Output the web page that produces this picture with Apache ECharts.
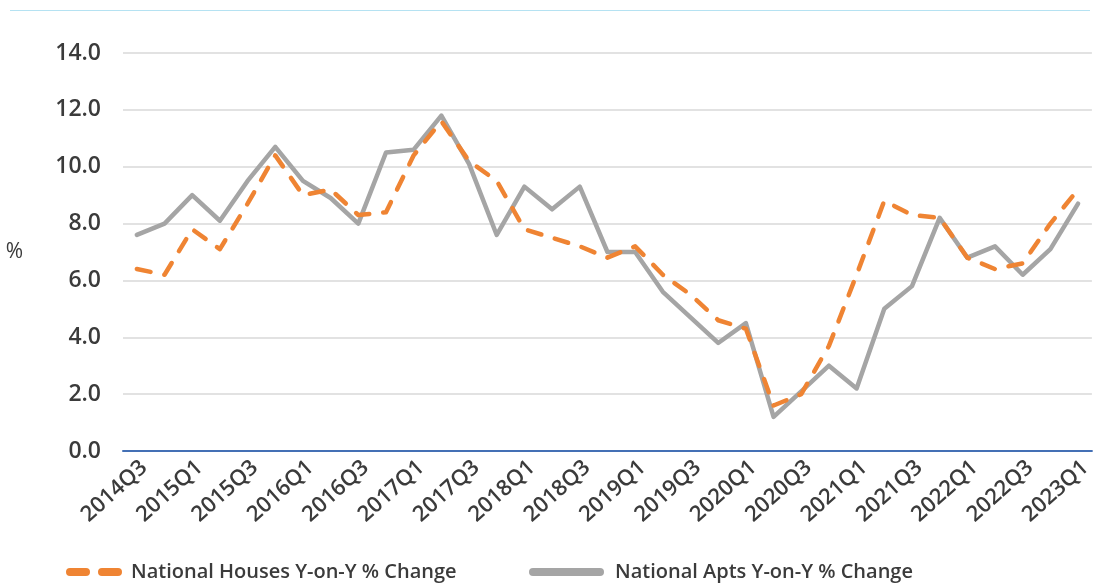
<!DOCTYPE html>
<html>
<head>
    <meta charset="utf-8">
    <script src="https://cdn.jsdelivr.net/npm/echarts@6/dist/echarts.min.js"></script>
    <style>
        *{
            margin:0;
            padding:0;
        }
        body{
            background:#fff;
        }
    </style>
</head>
<body>
    <div id="main" style="width:1095px;height:585px;"></div>
    <script type="text/javascript">

    var quarters = ['2014Q3','2014Q4','2015Q1','2015Q2','2015Q3','2015Q4','2016Q1','2016Q2','2016Q3','2016Q4',
        '2017Q1','2017Q2','2017Q3','2017Q4','2018Q1','2018Q2','2018Q3','2018Q4','2019Q1','2019Q2',
        '2019Q3','2019Q4','2020Q1','2020Q2','2020Q3','2020Q4','2021Q1','2021Q2','2021Q3','2021Q4',
        '2022Q1','2022Q2','2022Q3','2022Q4','2023Q1'];

    var houses = [6.4, 6.2, 7.8, 7.1, 8.7, 10.4, 9.0, 9.2, 8.3, 8.4,
        10.4, 11.6, 10.2, 9.5, 7.8, 7.5, 7.2, 6.8, 7.2, 6.2,
        5.5, 4.6, 4.3, 1.6, 2.0, 3.7, 6.2, 8.8, 8.3, 8.2,
        6.8, 6.4, 6.6, 8.0, 9.2];

    var apts = [7.6, 8.0, 9.0, 8.1, 9.5, 10.7, 9.5, 8.9, 8.0, 10.5,
        10.6, 11.8, 10.1, 7.6, 9.3, 8.5, 9.3, 7.0, 7.0, 5.6,
        4.7, 3.8, 4.5, 1.2, 2.1, 3.0, 2.2, 5.0, 5.8, 8.2,
        6.8, 7.2, 6.2, 7.1, 8.7];

    var seriesNames = ['National Houses Y-on-Y % Change', 'National Apts Y-on-Y % Change'];

    var textColor = '#3b3b3b';
    var font = '"Open Sans", sans-serif';
    var orange = '#ef8433';
    var grey = '#a5a5a5';

    var legendText = {
        color: textColor,
        fontFamily: font,
        fontWeight: 600,
        fontSize: 20
    };

    var myChart = echarts.init(document.getElementById('main'));

    myChart.setOption({
        animation: false,
        grid: {
            left: 123,
            right: -4,
            top: 53,
            bottom: 134
        },
        graphic: [{
            type: 'line',
            shape: { x1: 10, y1: 10.5, x2: 1090, y2: 10.5 },
            style: { stroke: '#b5e2f2', lineWidth: 1.2 }
        }],
        legend: [
            {
                top: 562,
                left: 66,
                padding: 0,
                itemWidth: 48,
                itemHeight: 10,
                itemStyle: { opacity: 0 },
                lineStyle: { width: 8, type: [16, 16], cap: 'round' },
                textStyle: Object.assign({ padding: [0, 0, 0, 8] }, legendText),
                data: [seriesNames[0]]
            },
            {
                top: 562,
                left: 529,
                padding: 0,
                itemWidth: 67,
                itemHeight: 10,
                itemStyle: { opacity: 0 },
                lineStyle: { width: 8, cap: 'round' },
                textStyle: Object.assign({ padding: [0, 0, 0, 10] }, legendText),
                data: [seriesNames[1]]
            }
        ],
        xAxis: {
            type: 'category',
            boundaryGap: true,
            data: quarters,
            axisLine: {
                lineStyle: { color: '#4470b5', width: 2 }
            },
            axisTick: { show: false },
            axisLabel: {
                interval: 1,
                rotate: 42,
                margin: 20,
                padding: [0, -10, 0, 0],
                color: textColor,
                fontFamily: font,
                fontWeight: 600,
                fontSize: 22
            }
        },
        yAxis: {
            type: 'value',
            min: 0,
            max: 14,
            interval: 2,
            name: '%',
            nameLocation: 'middle',
            nameRotate: 0,
            nameGap: 100,
            nameTextStyle: {
                color: textColor,
                fontFamily: font,
                fontSize: 21
            },
            axisLine: { show: false },
            axisTick: { show: false },
            splitLine: {
                lineStyle: { color: '#d9d9d9', width: 1.5 }
            },
            axisLabel: {
                margin: 22,
                color: textColor,
                fontFamily: font,
                fontWeight: 600,
                fontSize: 23,
                formatter: function (v) { return v.toFixed(1); }
            }
        },
        series: [
            {
                name: seriesNames[0],
                type: 'line',
                data: houses,
                symbol: 'none',
                z: 3,
                lineStyle: {
                    color: orange,
                    width: 4.5,
                    type: [14, 14],
                    cap: 'round',
                    join: 'round'
                },
                itemStyle: { color: orange }
            },
            {
                name: seriesNames[1],
                type: 'line',
                data: apts,
                symbol: 'none',
                z: 2,
                lineStyle: {
                    color: grey,
                    width: 4.5,
                    cap: 'round',
                    join: 'round'
                },
                itemStyle: { color: grey }
            }
        ]
    });
</script>
</body>
</html>
